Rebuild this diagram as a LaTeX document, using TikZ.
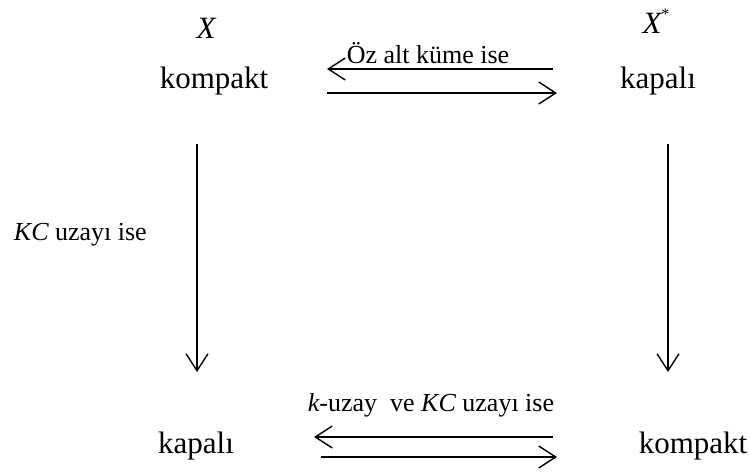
\documentclass[tikz,border=0pt]{standalone}
\usepackage{fontspec}
\setmainfont{Liberation Serif}
\usetikzlibrary{arrows.meta}
\begin{document}
\begin{tikzpicture}[x=1pt,y=-1pt,
  big/.style={font=\fontsize{31}{33}\selectfont, inner sep=0pt, anchor=base},
  lbl/.style={font=\fontsize{26}{28}\selectfont, inner sep=0pt, anchor=base},
  conn/.style={line width=1.4pt, -{Straight Barb[length=17pt,width=22pt,line width=1.4pt]}}]
\useasboundingbox (0,0) rectangle (749,471);
% top row
\node[big] (xl) at (206,38) {\itshape X};
\node[big] (xr) at (656,33) {\itshape X\raisebox{14pt}{\fontsize{16}{16}\selectfont\upshape *}};
\node[big] (ktl) at (214,88) {kompakt};
\node[big] (ktr) at (658,88) {kapalı};
\node[lbl] (ltop) at (428,63) {Öz alt küme ise};
% bottom row
\node[big] (kbl) at (196,453) {kapalı};
\node[big] (kbr) at (693,453) {kompakt};
\node[lbl] (lbot) at (431,411) {\itshape k\upshape -uzay\ \ ve \itshape KC\upshape\ uzayı ise};
% left label
\node[lbl, anchor=base east] (lleft) at (147,240) {\itshape KC\upshape\ uzayı ise};
% coordinates for arrows
\coordinate (a1s) at (553,69);  \coordinate (a1e) at (327,69);
\coordinate (a2s) at (327,93);  \coordinate (a2e) at (557,93);
\coordinate (b1s) at (553,437); \coordinate (b1e) at (314,437);
\coordinate (b2s) at (321,457); \coordinate (b2e) at (557,457);
\coordinate (v1s) at (197,144); \coordinate (v1e) at (197,372);
\coordinate (v2s) at (668,144); \coordinate (v2e) at (668,372);
\draw[conn] (a1s) -- (a1e);
\draw[conn] (a2s) -- (a2e);
\draw[conn] (b1s) -- (b1e);
\draw[conn] (b2s) -- (b2e);
\draw[conn] (v1s) -- (v1e);
\draw[conn] (v2s) -- (v2e);
\end{tikzpicture}
\end{document}
